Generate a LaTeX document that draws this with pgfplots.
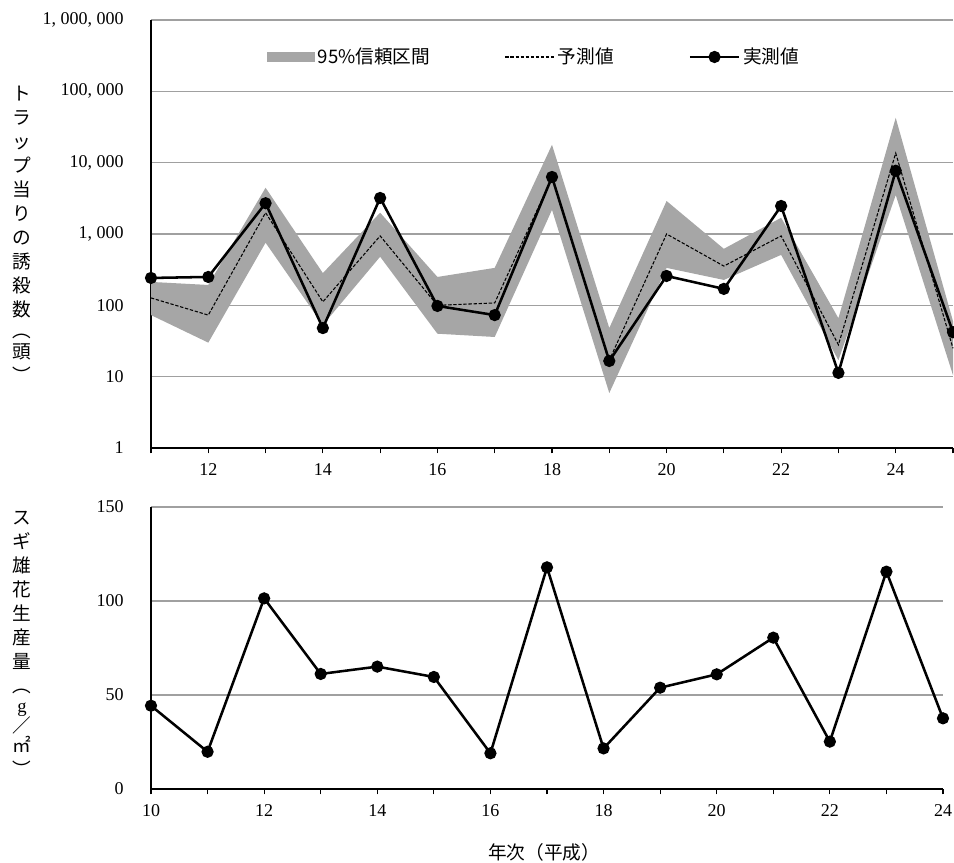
\documentclass[border=0pt]{standalone}
\usepackage{fontspec}
\setmainfont{Liberation Serif}
\newfontfamily\jp{Noto Sans CJK JP}
\usepackage{graphicx}
\usepackage{pgfplots}
\pgfplotsset{compat=1.18}
\definecolor{bandgray}{HTML}{A6A6A6}
\definecolor{gridgray}{HTML}{A0A0A0}

\pgfplotsset{
  mystyle/.style={
    scale only axis,
    axis x line=bottom, axis y line=left,
    axis line style={-, line width=2pt, black},
    clip=false,
    ymajorgrids, grid style={gridgray, line width=1.1pt},
    ytick style={draw=none},
    tick align=outside,
    major tick length=4pt, minor tick length=4pt,
    xtick style={black, line width=0.8pt},
    minor tick style={black, line width=0.8pt},
    tick label style={font=\fontsize{13.5}{15}\selectfont},
    /pgf/number format/assume math mode=true,
    yticklabel style={xshift=-13pt},
    xticklabel style={yshift=-4pt},
  }
}

\begin{document}
\begin{tikzpicture}
\useasboundingbox (0,0) rectangle (715.5pt,-647.25pt);

% ---------- top panel ----------
\begin{axis}[mystyle,
  at={(113.25pt,-336pt)}, anchor=south west,
  width=601.5pt, height=321pt,
  ymode=log, ymin=1, ymax=1000000,
  xmin=11, xmax=25,
  xtick={12,14,...,24}, minor xtick={11,13,...,25},
  ytick={1,10,100,1000,10000,100000,1000000},
  yticklabels={\textrm{1},\textrm{10},\textrm{100},\textrm{1, 000},\textrm{10, 000},\textrm{100, 000},\textrm{1, 000, 000}},
  legend style={draw=none, fill=none, inner sep=0pt, outer sep=0pt,
    at={(axis description cs:0.1446,0.9136)}, anchor=west,
    legend columns=3, column sep=0pt,
    font=\jp\fontsize{14}{16}\selectfont,
    /tikz/every even column/.append style={column sep=54pt}},
]
\addplot[fill=bandgray, draw=none,
  legend image code/.code={\fill[bandgray] (0pt,-3.75pt) rectangle (36pt,3.75pt);}]
  coordinates {
  (11,213) (12,193) (13,4450) (14,283) (15,1990) (16,250) (17,335) (18,17800)
  (19,48) (20,2900) (21,620) (22,1690) (23,66) (24,42500) (25,60)
  (25,10.5) (24,3520) (23,17) (22,510) (21,227) (20,335) (19,5.9) (18,2180)
  (17,36) (16,40) (15,480) (14,53) (13,755) (12,30) (11,73)
  };
\addlegendentry{95\%信頼区間}
\addplot[black, line width=0.8pt, dash pattern=on 2.5pt off 1.3pt,
  legend image code/.code={\draw[black, line width=0.8pt, dash pattern=on 2.5pt off 1.3pt] (0pt,0pt) -- (37pt,0pt);}]
  coordinates {
  (11,127) (12,73) (13,1990) (14,112) (15,940) (16,100) (17,108) (18,6200)
  (19,17) (20,1000) (21,355) (22,940) (23,28) (24,13600) (25,25)
  };
\addlegendentry{予測値}
\addplot[black, line width=1.9pt, mark=*, mark size=3.6pt,
  legend image code/.code={\draw[black, line width=1.9pt] (0pt,0pt) -- (37pt,0pt); \fill[black] (18.5pt,0pt) circle (3.6pt);}]
  coordinates {
  (11,242) (12,250) (13,2700) (14,48) (15,3200) (16,98) (17,73) (18,6300)
  (19,16.6) (20,258) (21,170) (22,2470) (23,11.3) (24,7700) (25,42)
  };
\addlegendentry{実測値}
\end{axis}

% ---------- bottom panel ----------
\begin{axis}[mystyle,
  at={(113.25pt,-591.75pt)}, anchor=south west,
  width=594pt, height=211.5pt,
  ymin=0, ymax=150, xmin=10, xmax=24,
  xtick={10,12,...,24}, minor xtick={11,13,...,23},
  ytick={0,50,100,150},
]
\addplot[black, line width=1.9pt, mark=*, mark size=3.6pt]
  coordinates {
  (10,44.3) (11,19.8) (12,101.4) (13,61.2) (14,65.1) (15,59.6) (16,19.0) (17,117.9)
  (18,21.6) (19,53.9) (20,61.0) (21,80.5) (22,25.2) (23,115.6) (24,37.6)
  };
\end{axis}

% ---------- axis titles ----------
\node[font=\jp\fontsize{14}{18}\selectfont, align=center, inner sep=0pt, anchor=north]
  at (16.5pt,-64pt) {ト\\ラ\\ッ\\プ\\当\\り\\の\\誘\\殺\\数\\[-2pt]︵\\[-2pt]頭\\︶};
\node[font=\jp\fontsize{14}{18}\selectfont, align=center, inner sep=0pt, anchor=north]
  at (16.5pt,-383pt) {ス\\ギ\\雄\\花\\生\\産\\量\\︵\\[-3pt]\textrm{g}\\[-3pt]／\\[-3pt]㎡\\︶};
\node[font=\jp\fontsize{14}{16}\selectfont, inner sep=0pt] at (408pt,-639pt) {年次（平成）};
\end{tikzpicture}
\end{document}
